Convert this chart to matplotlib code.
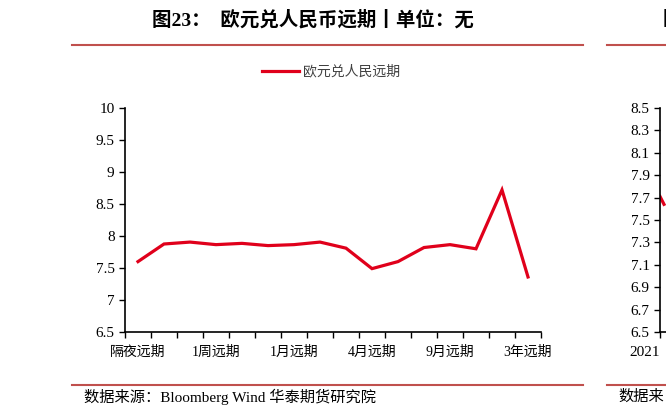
import numpy as np
import matplotlib
matplotlib.use('Agg')
import matplotlib.pyplot as plt
from matplotlib.lines import Line2D

plt.rcParams['font.family'] = ['Liberation Serif', 'Noto Sans CJK SC', 'DejaVu Sans']

# data
terms = ['隔夜远期', 'T/N', 'S/N', '1周远期', '2周远期', '3周远期', '1月远期', '2月远期', '3月远期',
         '4月远期', '5月远期', '6月远期', '9月远期', '1年远期', '2年远期', '3年远期']
fwd = [7.60, 7.875, 7.905, 7.865, 7.885, 7.85, 7.865, 7.905, 7.81,
       7.49, 7.60, 7.82, 7.865, 7.80, 8.72, 7.36]
shown_labels = ['隔夜远期', '1周远期', '1月远期', '4月远期', '9月远期', '3年远期']
series_name = '欧元兑人民远期'

# next chart on the page, only its left edge is visible
next_x = [0, 1]
next_y = [7.71, 7.64]
next_yticks = [6.5, 6.7, 6.9, 7.1, 7.3, 7.5, 7.7, 7.9, 8.1, 8.3, 8.5]

red = '#E0001B'
rule = '#C0504D'
W, H = 666, 415

fig = plt.figure(figsize=(W / 100, H / 100), dpi=100)

def fx(px):
	return px / W

def fy(py):
	return 1 - py / H

# main axes
ax = fig.add_axes([fx(125), fy(332), fx(541) - fx(125), fy(108) - fy(332)])
x = np.arange(len(fwd))
ax.plot(x, fwd, color=red, lw=2.3, label=series_name, solid_joinstyle='miter')
ax.set_xlim(-0.5, len(fwd) - 0.5)
ax.set_ylim(6.5, 10)
ax.set_yticks(np.arange(6.5, 10.01, 0.5))
ax.set_yticklabels(['6.5', '7', '7.5', '8', '8.5', '9', '9.5', '10'], fontsize=11)
ax.set_xticks(np.arange(-0.5, len(fwd), 1))
ax.set_xticklabels([])
ax.set_xticks([terms.index(t) for t in shown_labels], minor=True)
ax.set_xticklabels(shown_labels, minor=True, fontsize=10)
ax.tick_params(axis='x', which='minor', length=0, pad=10)
ax.tick_params(axis='both', which='major', direction='out', length=4, width=1, color='black')
for s in ['top', 'right']:
	ax.spines[s].set_visible(False)
for s in ['left', 'bottom']:
	ax.spines[s].set_linewidth(1.2)

fig.legend(loc='center', bbox_to_anchor=(fx(331), fy(72)), frameon=False, fontsize=10,
		   handlelength=2.7, handletextpad=0.3, labelcolor='#404040')

# right partial chart
ax2 = fig.add_axes([fx(660), fy(332), 0.6, fy(108) - fy(332)])
ax2.plot(next_x, next_y, color=red, lw=2.3)
ax2.set_xlim(0, 100)
ax2.set_ylim(6.5, 8.5)
ax2.set_yticks(next_yticks)
ax2.set_yticklabels(['%.1f' % v for v in next_yticks], fontsize=11)
ax2.set_xticks([0])
ax2.set_xticklabels(['2021'], fontsize=11, ha='right')
ax2.tick_params(direction='out', length=4, width=1)
ax2.tick_params(axis='x', pad=6)
for s in ['top', 'right']:
	ax2.spines[s].set_visible(False)
for s in ['left', 'bottom']:
	ax2.spines[s].set_linewidth(1.2)

# title, rules, source
fig.text(fx(313), fy(20), '图23：  欧元兑人民币远期丨单位：无', ha='center', va='center',
		 fontsize=14, fontweight='bold')
fig.text(fx(663), fy(20), '图', ha='left', va='center', fontsize=14, fontweight='bold')
fig.add_artist(Line2D([fx(72), fx(583)], [fy(45), fy(45)], color=rule, lw=1.5))
fig.add_artist(Line2D([fx(607), 1.0], [fy(45), fy(45)], color=rule, lw=1.5))
fig.add_artist(Line2D([fx(72), fx(583)], [fy(385), fy(385)], color=rule, lw=1.5))
fig.add_artist(Line2D([fx(607), 1.0], [fy(385), fy(385)], color=rule, lw=1.5))
fig.text(fx(84), fy(397), '数据来源：Bloomberg Wind 华泰期货研究院', ha='left', va='center', fontsize=11)
fig.text(fx(618), fy(397), '数据来', ha='left', va='center', fontsize=11)

fig.savefig('out.png', dpi=100)
